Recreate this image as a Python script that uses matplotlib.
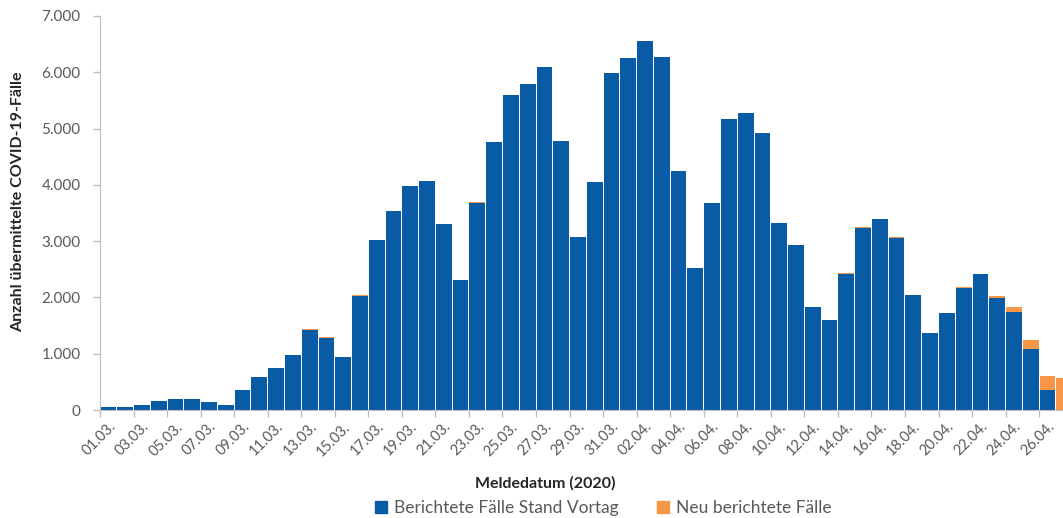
import matplotlib.pyplot as plt
import numpy as np
from datetime import date, timedelta
from matplotlib.ticker import FuncFormatter, MultipleLocator
from matplotlib.patches import Patch

plt.rcParams['font.family'] = ['Lato', 'DejaVu Sans']

# Meldedatum 01.03. - 27.04.2020
start = date(2020, 3, 1)
dates = [start + timedelta(days=i) for i in range(58)]
date_labels = [d.strftime('%d.%m.') for d in dates]

# Fälle, die bereits am Vortag übermittelt waren
cases_prev = [
    50, 50, 90, 160, 200, 190, 135, 95, 350, 585,
    740, 975, 1425, 1285, 940, 2030, 3020, 3540, 3985, 4075,
    3300, 2310, 3680, 4770, 5590, 5790, 6090, 4780, 3080, 4055,
    5980, 6260, 6555, 6275, 4250, 2515, 3685, 5165, 5280, 4915,
    3325, 2930, 1835, 1600, 2425, 3240, 3400, 3055, 2045, 1375,
    1720, 2170, 2415, 1985, 1745, 1080, 355, 0,
]
# neu hinzugekommene Fälle
cases_new = [
    0, 0, 0, 0, 0, 0, 0, 0, 0, 0,
    5, 0, 15, 10, 0, 10, 0, 0, 0, 0,
    0, 0, 10, 0, 0, 0, 10, 0, 0, 0,
    0, 0, 0, 0, 0, 0, 0, 0, 0, 0,
    0, 10, 0, 0, 15, 10, 0, 10, 0, 0,
    10, 10, 10, 45, 90, 165, 250, 570,
]

blue = '#0a5ba5'
orange = '#f79646'
grey = '#595959'

W, H = 1063, 518
fig = plt.figure(figsize=(W / 100, H / 100), dpi=100)
day_px = 16.77
ax = fig.add_axes([100 / W, (H - 410) / H, 58 * day_px / W, 394 / H])

x = np.arange(len(dates))
ax.bar(x, cases_prev, width=0.94, color=blue, linewidth=0)
ax.bar(x, cases_new, bottom=cases_prev, width=0.94, color=orange, linewidth=0)

ax.set_xlim(-0.5, len(dates) - 0.5)
ax.set_ylim(0, 7000)

ax.yaxis.set_major_locator(MultipleLocator(1000))
ax.yaxis.set_major_formatter(FuncFormatter(lambda v, p: f'{int(v):,}'.replace(',', '.')))
ax.tick_params(axis='y', colors='#bfbfbf', labelcolor=grey, labelsize=11,
               length=5, width=1, pad=9)

# Beschriftung jeden zweiten Tag, Striche zwischen den Kategorien
ax.set_xticks(x[::2])
ax.set_xticklabels(date_labels[::2], rotation=45, ha='right', rotation_mode='anchor',
                   fontsize=10.5, color=grey)
ax.set_xticks(np.arange(-0.5, len(dates), 2), minor=True)
ax.tick_params(axis='x', which='major', length=0, pad=7)
ax.tick_params(axis='x', which='minor', length=5, color='#bfbfbf', width=1)

for side in ['top', 'right']:
    ax.spines[side].set_visible(False)
ax.spines['left'].set_color('#bfbfbf')
ax.spines['bottom'].set_color('#bfbfbf')

fig.text(18 / W, 1 - 202 / H, 'Anzahl übermittelte COVID-19-Fälle', rotation=90,
         ha='center', va='center', fontsize=11.5, fontweight='bold', color='#262626')
fig.text(545 / W, 1 - 483 / H, 'Meldedatum (2020)', ha='center', va='center',
         fontsize=11.5, fontweight='bold', color='#262626')

handles = [Patch(color=blue, label='Berichtete Fälle Stand Vortag'),
           Patch(color=orange, label='Neu berichtete Fälle')]
fig.legend(handles=handles, loc='center', bbox_to_anchor=(603 / W, 1 - 508 / H),
           ncol=2, frameon=False, fontsize=12.5, handlelength=0.7, handleheight=0.7,
           handletextpad=0.4, columnspacing=2.2, labelcolor=grey)

fig.savefig('out.png', dpi=100)
